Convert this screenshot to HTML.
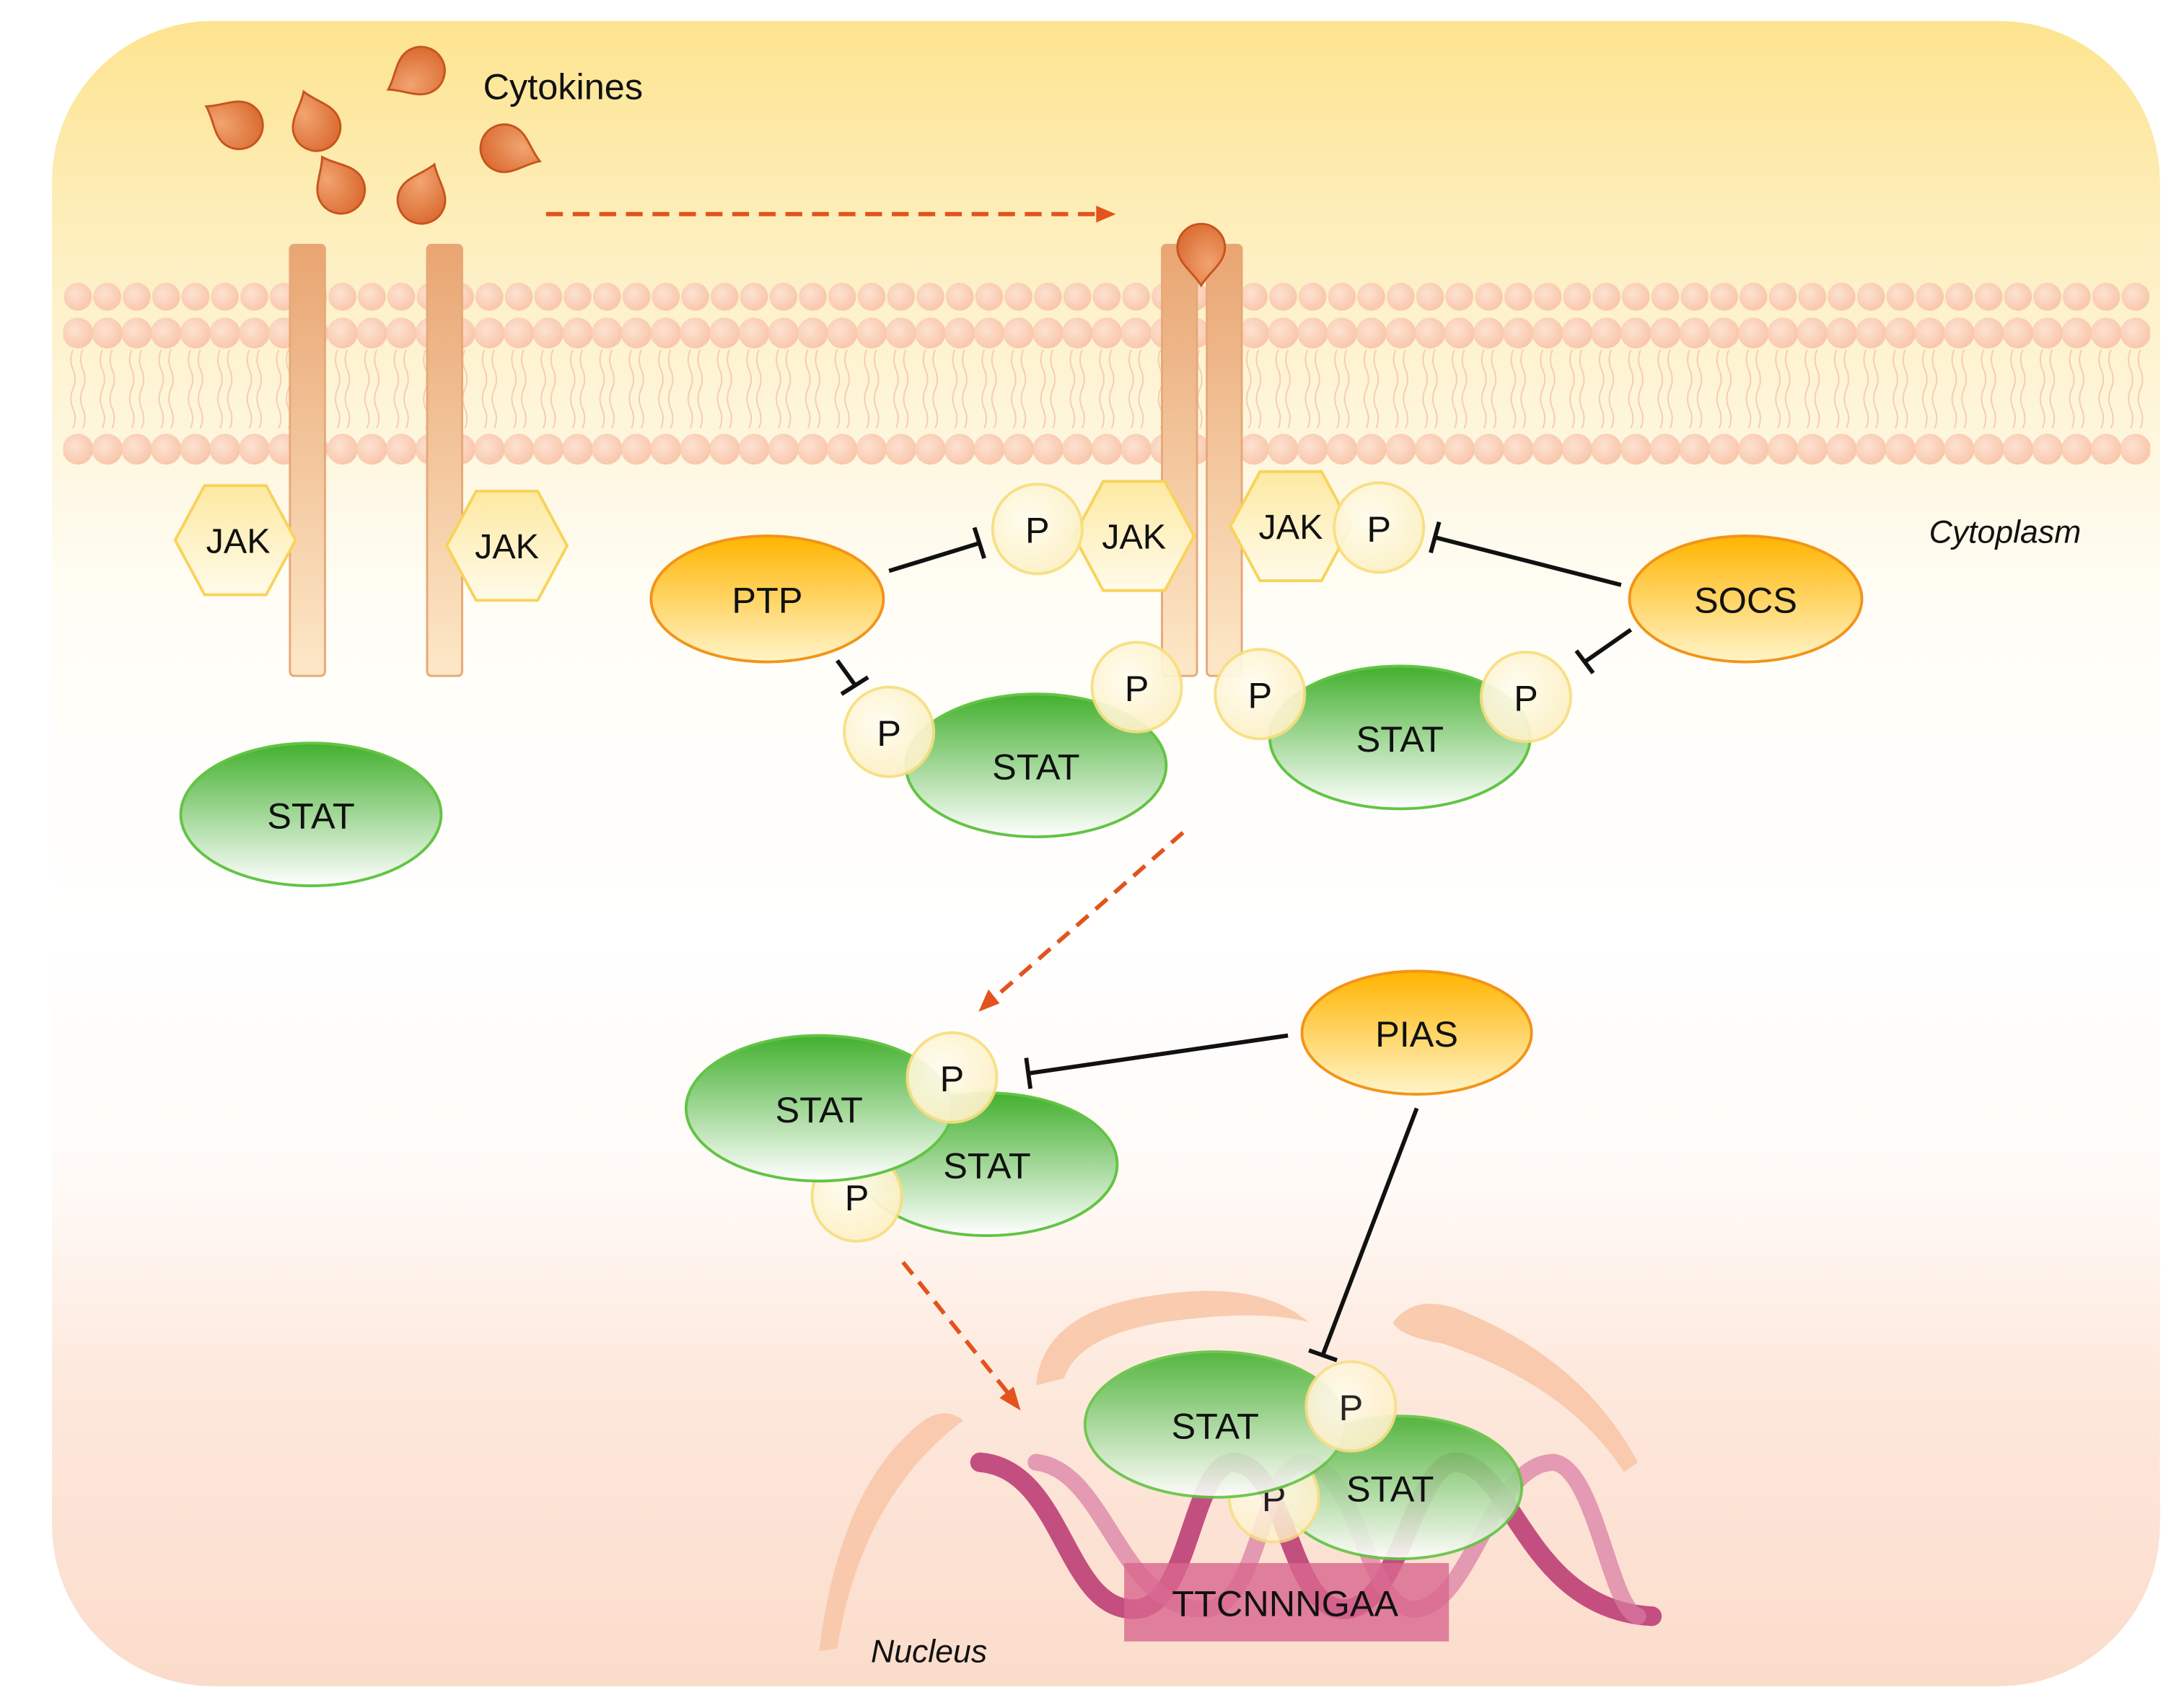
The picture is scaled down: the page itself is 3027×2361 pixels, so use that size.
<!DOCTYPE html>
<html><head><meta charset="utf-8"><style>
html,body{margin:0;padding:0;background:#fff;}
svg{display:block;}
text{font-family:"Liberation Sans",Arial,sans-serif;fill:#111;}
</style></head><body>
<svg width="3027" height="2361" viewBox="0 0 1560 1217" xmlns="http://www.w3.org/2000/svg">
<defs>
<linearGradient id="bg" x1="0" y1="0" x2="0" y2="1">
<stop offset="0" stop-color="#fde48f"/><stop offset="0.15" stop-color="#fdf0c4"/><stop offset="0.35" stop-color="#fffdf6"/><stop offset="0.55" stop-color="#ffffff"/><stop offset="0.70" stop-color="#fffaf6"/><stop offset="0.82" stop-color="#fde8dc"/><stop offset="1" stop-color="#fbdccb"/>
</linearGradient>
<linearGradient id="green" x1="0" y1="0" x2="0" y2="1"><stop offset="0" stop-color="#43b02f"/><stop offset="1" stop-color="#ffffff"/></linearGradient>
<linearGradient id="orange" x1="0" y1="0" x2="0" y2="1"><stop offset="0" stop-color="#ffb400"/><stop offset="1" stop-color="#fff4c8"/></linearGradient>
<radialGradient id="pg" cx="0.4" cy="0.4" r="0.7"><stop offset="0" stop-color="#fffdf0"/><stop offset="1" stop-color="#fcefc0"/></radialGradient>
<linearGradient id="rec" x1="0" y1="0" x2="0" y2="1"><stop offset="0" stop-color="#e9a572"/><stop offset="1" stop-color="#fde8c8"/></linearGradient>
<radialGradient id="cyt" cx="0.35" cy="0.35" r="0.8"><stop offset="0" stop-color="#f2a470"/><stop offset="1" stop-color="#d8662c"/></radialGradient>
<linearGradient id="hex" x1="0" y1="0" x2="0" y2="1"><stop offset="0" stop-color="#fde9a2"/><stop offset="1" stop-color="#fffbe9"/></linearGradient>
<radialGradient id="head" cx="0.4" cy="0.4" r="0.7"><stop offset="0" stop-color="#fde2d2"/><stop offset="1" stop-color="#f8c3a6"/></radialGradient>
<g id="P"><circle r="32" fill="url(#pg)" stroke="#f7de7e" stroke-width="2" opacity="0.93"/><text y="10" text-anchor="middle" font-size="26">P</text></g>
<path id="drop" d="M0,-24 C6,-14 17,-8 17,3 A17,17 0 1 1 -17,3 C-17,-8 -6,-14 0,-24Z" fill="url(#cyt)" stroke="#c7541f" stroke-width="1.5"/>
<polygon id="hx" points="-43,0 -22,-39 22,-39 43,0 22,39 -22,39" fill="url(#hex)" stroke="#f8d35a" stroke-width="2"/>
<pattern id="heads" x="45" y="0" width="21" height="400" patternUnits="userSpaceOnUse">
<circle cx="10.5" cy="212" r="10" fill="url(#head)"/><circle cx="10.5" cy="238" r="11" fill="url(#head)"/>
<circle cx="10.5" cy="321" r="11" fill="url(#head)"/>
<path d="M7,250 q-3,7 0,14 q3,7 0,14 q-3,7 0,14 q3,7 0,14 M14,250 q-3,7 0,14 q3,7 0,14 q-3,7 0,14 q3,7 0,14" stroke="#f6cbb3" stroke-width="1" fill="none"/>
</pattern>
</defs>
<rect width="1560" height="1217" fill="#fff"/>
<rect x="37" y="15" width="1506" height="1190" rx="115" fill="url(#bg)"/>
<rect x="45" y="195" width="1491" height="145" fill="url(#heads)"/>

<use href="#drop" transform="translate(168,88) rotate(-60)"/>
<use href="#drop" transform="translate(225,88) rotate(-20)"/>
<use href="#drop" transform="translate(242,133) rotate(-30)"/>
<use href="#drop" transform="translate(302,140) rotate(20)"/>
<use href="#drop" transform="translate(298,52) rotate(-120)"/>
<use href="#drop" transform="translate(363,107) rotate(110)"/>
<text x="345" y="71" font-size="26">Cytokines</text>
<line x1="390" y1="153" x2="785" y2="153" stroke="#e2531d" stroke-width="3" stroke-dasharray="12,7"/>
<polygon points="797,153 783,147 783,159" fill="#e2531d"/>

<rect x="207" y="175" width="25" height="308" rx="3" fill="url(#rec)" stroke="#e7a878" stroke-width="1.5"/>
<rect x="305" y="175" width="25" height="308" rx="3" fill="url(#rec)" stroke="#e7a878" stroke-width="1.5"/>
<rect x="830" y="175" width="25" height="308" rx="3" fill="url(#rec)" stroke="#e7a878" stroke-width="1.5"/>
<rect x="862" y="175" width="25" height="308" rx="3" fill="url(#rec)" stroke="#e7a878" stroke-width="1.5"/>
<use href="#drop" transform="translate(858,180) rotate(180)"/>

<use href="#hx" x="168" y="386"/><text x="170" y="395" text-anchor="middle" font-size="25">JAK</text>
<use href="#hx" x="362" y="390"/><text x="362" y="399" text-anchor="middle" font-size="25">JAK</text>
<use href="#hx" x="810" y="383"/><text x="810" y="392" text-anchor="middle" font-size="25">JAK</text>
<use href="#hx" x="922" y="376"/><text x="922" y="385" text-anchor="middle" font-size="25">JAK</text>

<text x="1378" y="388" font-size="23" font-style="italic">Cytoplasm</text>

<ellipse cx="222" cy="582" rx="93" ry="51" fill="url(#green)" stroke="#62c443" stroke-width="2"/><text x="222" y="592" text-anchor="middle" font-size="26">STAT</text>
<ellipse cx="740" cy="547" rx="93" ry="51" fill="url(#green)" stroke="#62c443" stroke-width="2"/><text x="740" y="557" text-anchor="middle" font-size="26">STAT</text>
<ellipse cx="1000" cy="527" rx="93" ry="51" fill="url(#green)" stroke="#62c443" stroke-width="2"/><text x="1000" y="537" text-anchor="middle" font-size="26">STAT</text>

<use href="#P" x="741" y="378"/><use href="#P" x="985" y="377"/>
<use href="#P" x="635" y="523"/><use href="#P" x="812" y="491"/>
<use href="#P" x="900" y="496"/><use href="#P" x="1090" y="498"/>

<ellipse cx="548" cy="428" rx="83" ry="45" fill="url(#orange)" stroke="#f29419" stroke-width="2"/><text x="548" y="438" text-anchor="middle" font-size="26">PTP</text>
<ellipse cx="1247" cy="428" rx="83" ry="45" fill="url(#orange)" stroke="#f29419" stroke-width="2"/><text x="1247" y="438" text-anchor="middle" font-size="26">SOCS</text>
<ellipse cx="1012" cy="738" rx="82" ry="44" fill="url(#orange)" stroke="#f29419" stroke-width="2"/><text x="1012" y="748" text-anchor="middle" font-size="26">PIAS</text>

<g stroke="#111" stroke-width="3" fill="none">
<line x1="635" y1="408" x2="700" y2="388"/><line x1="696" y1="377" x2="703" y2="399"/>
<line x1="598" y1="472" x2="611" y2="490"/><line x1="601" y1="496" x2="620" y2="484"/>
<line x1="1158" y1="418" x2="1025" y2="384"/><line x1="1028" y1="373" x2="1022" y2="395"/>
<line x1="1165" y1="450" x2="1132" y2="473"/><line x1="1126" y1="465" x2="1138" y2="481"/>
<line x1="920" y1="740" x2="735" y2="767"/><line x1="733" y1="756" x2="736" y2="778"/>
<line x1="1012" y1="792" x2="945" y2="968"/><line x1="935" y1="965" x2="955" y2="972"/>
</g>

<line x1="845" y1="595" x2="708" y2="715" stroke="#e2531d" stroke-width="3" stroke-dasharray="11,7"/>
<polygon points="699,723 706,707 714,717" fill="#e2531d"/>
<line x1="645" y1="902" x2="722" y2="998" stroke="#e2531d" stroke-width="3" stroke-dasharray="11,7"/>
<polygon points="729,1008 714,999 724,991" fill="#e2531d"/>

<ellipse cx="705" cy="832" rx="93" ry="51" fill="url(#green)" stroke="#62c443" stroke-width="2"/><text x="705" y="842" text-anchor="middle" font-size="26">STAT</text>
<use href="#P" x="612" y="855"/>
<ellipse cx="585" cy="792" rx="95" ry="52" fill="url(#green)" stroke="#62c443" stroke-width="2"/><text x="585" y="802" text-anchor="middle" font-size="26">STAT</text>
<use href="#P" x="680" y="770"/>

<g fill="#f8c6a8" opacity="0.9">
<path d="M740,990 Q745,935 830,925 Q900,915 935,945 Q900,935 830,945 Q770,955 760,985 Z"/>
<path d="M995,945 Q1010,925 1040,935 Q1130,970 1170,1045 L1160,1052 Q1120,990 1030,960 Q1000,955 995,945 Z"/>
<path d="M688,1015 Q675,1005 660,1015 Q600,1060 585,1180 L598,1178 Q615,1070 688,1015 Z"/>
</g>

<g fill="none" stroke-linecap="round">
<path d="M700,1045 C760,1050 760,1150 810,1150 C850,1150 850,1050 880,1045 C920,1045 920,1150 960,1150 C1000,1150 1010,1045 1040,1045 C1080,1045 1090,1150 1180,1155" stroke="#b83571" stroke-width="14" opacity="0.85"/>
<path d="M740,1045 C790,1050 800,1150 860,1150 C900,1150 900,1050 930,1045 C970,1045 975,1150 1010,1150 C1050,1150 1065,1045 1110,1045 C1140,1050 1150,1150 1170,1155" stroke="#d97aa2" stroke-width="12" opacity="0.7"/>
</g>
<rect x="803" y="1117" width="232" height="56" fill="#d8668e" opacity="0.8"/>

<g opacity="0.9">
<ellipse cx="1000" cy="1063" rx="87" ry="51" fill="url(#green)" stroke="#62c443" stroke-width="2"/>
<use href="#P" x="910" y="1070"/>
<ellipse cx="868" cy="1018" rx="93" ry="52" fill="url(#green)" stroke="#62c443" stroke-width="2"/>
<use href="#P" x="965" y="1005"/>
</g>
<text x="993" y="1073" text-anchor="middle" font-size="26">STAT</text>
<text x="868" y="1028" text-anchor="middle" font-size="26">STAT</text>
<text x="918" y="1155" text-anchor="middle" font-size="26">TTCNNNGAA</text>
<text x="622" y="1188" font-size="23" font-style="italic">Nucleus</text>
</svg>
</body></html>
